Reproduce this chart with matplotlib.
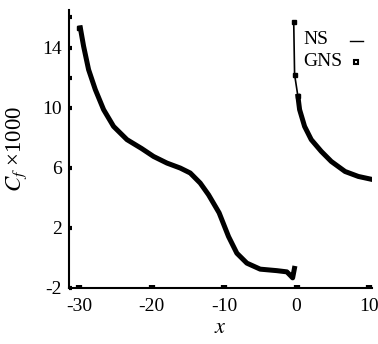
import matplotlib
matplotlib.use("Agg")
import matplotlib.pyplot as plt

plt.rcParams['font.family'] = ['Liberation Serif', 'DejaVu Serif']
plt.rcParams['mathtext.fontset'] = 'stix'
plt.rcParams['axes.unicode_minus'] = False

# upstream branch (x < 0)
x_left = [-30.1, -29.86, -29.41, -28.72, -27.79, -26.65, -25.27, -23.42, -21.4,
          -19.75, -17.9, -16.07, -14.69, -13.31, -12.16, -10.7, -9.4,
          -8.25, -6.87, -5.03, -2.73, -1.35, -0.8, -0.55, -0.3]
cf_left = [15.3, 15.31, 14.09, 12.53, 11.2, 9.87, 8.75, 7.87, 7.28,
           6.75, 6.31, 5.98, 5.65, 4.98, 4.2, 3.0, 1.42,
           0.31, -0.35, -0.75, -0.85, -0.93, -1.2, -1.33, -0.7]

# downstream branch (x > 0)
x_right = [-0.4, -0.28, 0.18, 0.41, 1.1, 2.02, 3.4, 4.78, 6.69, 8.52, 10.14]
cf_right = [15.7, 12.2, 10.75, 9.87, 8.75, 7.87, 7.09, 6.42, 5.75, 5.42, 5.25]

xticks = [-30, -20, -10, 0, 10]
yticks = [-2, 2, 6, 10, 14]
yminor = [12, 16]

fig = plt.figure(figsize=(3.78, 3.44), dpi=100)
ax = fig.add_axes([0.183, 0.163, 0.801, 0.808])

# NS: thin line
ax.plot(x_left, cf_left, color='black', lw=1.2)
ax.plot(x_right, cf_right, color='black', lw=1.2)
# GNS: dense squares -> thick band
ax.plot(x_left[1:], cf_left[1:], color='black', lw=3.6, solid_joinstyle='round')
ax.plot(x_right[2:], cf_right[2:], color='black', lw=3.6, solid_joinstyle='round')
ax.plot(x_right[:3], cf_right[:3], 's', color='black', ms=3.2)
ax.plot(x_left[:1], cf_left[:1], 's', color='black', ms=3.2)

ax.set_xlim(-31.4, 10.4)
ax.set_ylim(-2, 16.5)
ax.set_xticks(xticks)
ax.set_yticks(yticks)
ax.set_yticks(yminor, minor=True)
ax.tick_params(axis='x', direction='in', length=2.5, width=4.5, labelsize=14, pad=7)
ax.tick_params(axis='y', direction='in', length=2.5, width=3, labelsize=14, pad=5)
ax.tick_params(axis='y', which='minor', direction='in', length=2.5, width=3)
for s in ['top', 'right']:
    ax.spines[s].set_visible(False)
for s in ['left', 'bottom']:
    ax.spines[s].set_linewidth(1.5)

ax.set_xlabel('$x$', fontsize=16, labelpad=3)
ax.set_ylabel('$C_f$ ×1000', fontsize=16.5, labelpad=10)

# legend drawn by hand: labels left aligned, keys on the right
ax.text(0.772, 0.892, 'NS', transform=ax.transAxes, fontsize=14, va='center', ha='left')
ax.text(0.772, 0.813, 'GNS', transform=ax.transAxes, fontsize=14, va='center', ha='left')
ax.plot([0.927, 0.97], [0.89, 0.89], transform=ax.transAxes, color='black', lw=1)
ax.plot([0.947], [0.813], 's', transform=ax.transAxes, color='black', ms=3.5,
        mfc='white', mew=1.5)

fig.savefig('out.png', dpi=100)
